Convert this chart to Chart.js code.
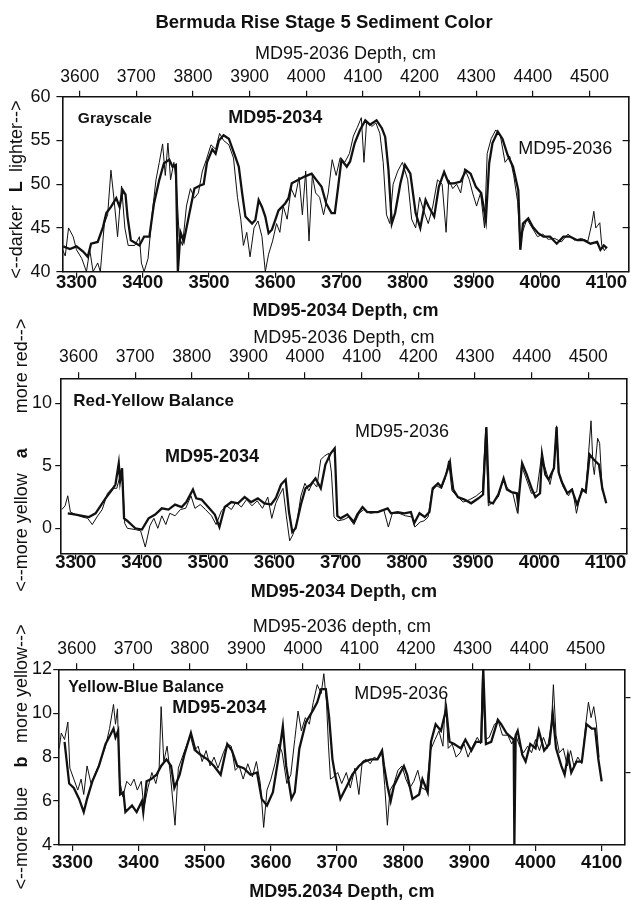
<!DOCTYPE html>
<html>
<head>
<meta charset="utf-8">
<script src="https://cdn.jsdelivr.net/npm/chart.js@4.4.1/dist/chart.umd.min.js"></script>
<style>
  html, body { margin: 0; padding: 0; background: #fff; overflow: hidden; }
  #wrap { position: relative; width: 631px; height: 900px; }
  #wrap canvas { position: absolute; left: 0; top: 0; }
</style>
</head>
<body>
<div id="wrap">
  <canvas id="c1" width="631" height="920"></canvas>
  <canvas id="c2" width="631" height="920"></canvas>
  <canvas id="c3" width="631" height="920"></canvas>
</div>
<script>
// tick labels
const depth34Ticks = [3300, 3400, 3500, 3600, 3700, 3800, 3900, 4000, 4100];
const depth36Ticks = [3600, 3700, 3800, 3900, 4000, 4100, 4200, 4300, 4400, 4500];
const grayTicks = [40, 45, 50, 55, 60];
const redTicks = [0, 5, 10];
const blueTicks = [4, 6, 8, 10, 12];

// [MD95-2034 depth (cm), value] ; MD95-2036 is plotted on the MD95-2034 depth scale
const gray34 = [[3280,42.9],[3290,42.6],[3300,42.9],[3310,42.3],[3317,41.7],[3322,43.2],[3332,43.4],[3340,45.1],[3345,46.7],[3352,47.4],
  [3360,48.4],[3365,47.4],[3370,49.3],[3374,48.8],[3377,46.3],[3382,43.6],[3395,43.0],[3402,44.0],[3410,44.0],[3417,47.8],
  [3425,50.5],[3432,52.4],[3440,52.8],[3445,52.0],[3450,52.2],[3453,40.0],[3457,44.5],[3462,43.5],[3470,46.5],[3478,49.5],
  [3485,49.8],[3492,50.0],[3497,52.5],[3505,54.0],[3510,53.5],[3515,55.0],[3522,55.6],[3530,55.2],[3540,53.1],[3545,52.0],
  [3550,49.0],[3555,46.3],[3565,45.5],[3570,45.9],[3575,48.2],[3580,47.4],[3585,46.3],[3590,44.4],[3595,44.8],[3600,45.9],
  [3605,47.0],[3615,47.8],[3620,48.4],[3625,50.1],[3635,50.5],[3645,50.9],[3655,51.2],[3662,50.5],[3670,49.7],[3677,47.8],
  [3685,46.7],[3690,46.7],[3695,49.7],[3700,52.8],[3708,52.0],[3713,52.6],[3720,54.7],[3728,56.2],[3736,57.3],[3743,56.8],
  [3753,57.3],[3761,56.4],[3766,55.4],[3771,51.6],[3776,45.5],[3781,46.7],[3789,50.1],[3796,52.2],[3804,51.2],[3812,46.7],
  [3819,45.0],[3827,48.2],[3832,47.4],[3840,46.3],[3847,49.7],[3855,51.4],[3862,50.1],[3870,50.1],[3880,50.3],[3888,51.6],
  [3895,51.2],[3903,49.7],[3911,49.0],[3918,45.9],[3923,52.4],[3928,54.7],[3936,56.0],[3943,55.2],[3951,53.3],[3959,52.0],
  [3967,49.3],[3970,42.5],[3974,45.5],[3982,46.1],[3989,45.1],[3997,44.4],[4005,44.0],[4015,44.0],[4025,43.2],[4035,44.0],
  [4045,44.0],[4056,43.6],[4066,43.6],[4076,43.2],[4086,43.4],[4091,42.5],[4096,43.0],[4101,42.7]];

const gray36 = [[3279,42.5],[3283,41.8],[3288,45.0],[3295,44.0],[3300,42.5],[3308,41.5],[3315,40.0],[3320,42.5],[3325,40.0],[3332,41.0],
  [3336,40.0],[3342,45.5],[3347,46.5],[3352,51.6],[3357,48.0],[3362,44.0],[3368,49.8],[3373,45.0],[3378,43.0],[3388,43.0],
  [3395,44.0],[3398,41.0],[3402,40.0],[3408,41.5],[3414,46.5],[3420,50.5],[3425,52.5],[3430,54.6],[3434,51.0],[3438,54.7],
  [3442,50.5],[3447,52.5],[3451,50.0],[3455,44.0],[3460,43.0],[3466,47.5],[3472,49.5],[3478,48.4],[3484,49.0],[3490,51.5],
  [3496,52.8],[3503,54.5],[3510,54.0],[3516,55.8],[3522,55.0],[3530,54.5],[3537,53.0],[3543,48.5],[3548,46.0],[3552,43.0],
  [3557,44.5],[3562,41.7],[3568,45.0],[3574,45.8],[3580,44.0],[3585,40.0],[3590,42.0],[3596,43.5],[3602,45.5],[3607,44.5],
  [3612,47.5],[3618,46.0],[3624,49.5],[3630,48.5],[3636,50.8],[3641,46.5],[3646,51.5],[3651,43.5],[3656,51.0],[3661,49.0],
  [3667,48.5],[3673,46.5],[3680,49.0],[3686,52.8],[3692,51.0],[3698,53.0],[3705,52.5],[3712,53.5],[3718,55.5],[3724,56.5],
  [3730,57.6],[3734,52.5],[3738,57.2],[3746,56.6],[3752,57.0],[3758,55.8],[3763,52.5],[3768,46.5],[3773,45.5],[3778,50.0],
  [3785,51.5],[3792,52.5],[3800,50.5],[3806,46.0],[3812,45.0],[3818,48.5],[3824,47.0],[3831,45.5],[3838,47.5],[3845,50.5],
  [3852,50.0],[3858,44.5],[3862,50.5],[3868,49.5],[3874,50.0],[3880,49.0],[3886,51.8],[3893,50.5],[3898,49.0],[3904,47.5],
  [3910,49.0],[3916,45.0],[3920,53.5],[3926,55.2],[3933,56.2],[3940,55.5],[3947,52.5],[3954,53.2],[3960,51.0],[3966,48.0],
  [3969,44.0],[3973,44.5],[3980,46.0],[3988,45.0],[3996,44.0],[4004,44.3],[4012,43.7],[4022,43.8],[4032,43.4],[4042,44.3],
  [4052,43.6],[4062,43.8],[4072,43.5],[4078,45.5],[4081,46.9],[4084,45.0],[4087,45.3],[4090,45.6],[4093,43.0],[4097,42.4],[4100,42.8]];

const red34 = [[3288,1.2],[3300,1.1],[3310,1.0],[3320,0.9],[3330,1.2],[3335,1.6],[3345,2.4],[3355,3.1],[3360,3.5],[3365,5.2],
  [3367,3.8],[3370,4.8],[3373,0.8],[3378,0.6],[3390,0.0],[3400,-0.1],[3410,0.8],[3420,1.1],[3430,1.6],[3440,1.5],
  [3450,1.9],[3460,1.7],[3467,2.1],[3477,3.1],[3482,2.4],[3490,2.3],[3500,1.7],[3510,1.1],[3517,0.1],[3525,1.7],
  [3535,2.1],[3545,2.0],[3555,2.5],[3565,2.1],[3575,2.4],[3585,2.0],[3595,1.9],[3602,2.4],[3610,3.5],[3617,3.9],
  [3622,1.3],[3627,-0.3],[3632,0.0],[3640,1.9],[3647,3.2],[3655,3.5],[3662,4.0],[3670,3.2],[3677,5.1],[3685,6.0],
  [3691,6.4],[3695,1.0],[3700,0.8],[3710,1.1],[3720,0.5],[3725,1.1],[3733,1.7],[3740,1.3],[3756,1.3],[3771,1.6],
  [3776,1.2],[3786,1.3],[3796,1.2],[3806,1.3],[3811,0.4],[3819,1.2],[3827,0.9],[3834,1.3],[3839,3.2],[3847,3.6],
  [3852,3.3],[3859,4.3],[3865,5.3],[3867,4.3],[3870,3.1],[3877,2.5],[3887,2.3],[3897,2.0],[3908,2.4],[3915,2.7],
  [3920,8.1],[3924,2.1],[3930,2.0],[3938,2.7],[3946,4.0],[3951,3.1],[3958,2.9],[3966,2.8],[3968,1.9],[3974,5.2],
  [3981,4.3],[3989,3.1],[3994,2.5],[4001,2.8],[4004,5.9],[4009,4.3],[4014,3.9],[4022,4.8],[4026,8.1],[4029,4.5],
  [4034,3.7],[4042,2.8],[4049,3.1],[4057,1.9],[4065,3.1],[4070,2.9],[4076,5.9],[4082,5.5],[4090,5.1],[4095,3.2],[4101,2.0]];

const red36 = [[3279,1.5],[3284,1.8],[3288,2.6],[3292,1.3],[3300,1.1],[3310,0.9],[3318,0.8],[3325,0.3],[3332,0.9],[3340,1.5],
  [3348,2.8],[3355,3.2],[3362,3.2],[3366,4.0],[3370,4.8],[3374,0.4],[3378,0.0],[3390,-0.1],[3398,-0.2],[3405,-1.5],
  [3412,0.2],[3418,0.8],[3424,0.0],[3430,1.0],[3436,0.3],[3442,1.2],[3450,1.0],[3458,1.5],[3466,1.6],[3474,2.6],
  [3480,1.6],[3488,1.9],[3496,1.5],[3505,1.0],[3512,0.3],[3520,1.4],[3528,1.8],[3535,1.5],[3542,2.1],[3550,1.7],
  [3558,2.3],[3566,1.8],[3574,2.2],[3582,1.6],[3590,2.5],[3596,0.8],[3602,2.0],[3608,2.7],[3613,3.2],[3618,1.0],
  [3623,-1.0],[3628,-0.5],[3634,0.5],[3640,2.6],[3646,3.6],[3652,3.0],[3658,3.7],[3664,3.3],[3670,5.5],[3676,5.8],
  [3682,6.0],[3686,4.5],[3690,0.9],[3696,0.6],[3705,0.7],[3712,0.9],[3720,0.3],[3728,1.2],[3735,1.5],[3745,1.2],
  [3755,1.3],[3765,1.5],[3772,0.1],[3778,1.2],[3788,1.2],[3798,1.0],[3808,0.9],[3812,0.1],[3820,0.5],[3826,0.6],
  [3832,0.9],[3838,3.0],[3845,3.4],[3852,3.2],[3858,4.0],[3863,5.4],[3868,3.0],[3875,2.6],[3885,2.1],[3895,2.3],
  [3905,2.6],[3914,3.0],[3919,8.0],[3923,1.8],[3930,2.1],[3938,2.5],[3945,3.8],[3952,3.2],[3960,2.8],[3967,1.2],
  [3973,5.0],[3980,4.0],[3988,2.8],[3996,2.9],[4003,5.7],[4010,4.6],[4016,3.5],[4022,5.0],[4026,8.2],[4030,4.2],
  [4036,3.3],[4044,2.6],[4050,3.2],[4056,1.2],[4064,3.2],[4070,3.0],[4075,6.5],[4078,8.6],[4081,5.0],[4083,4.3],
  [4088,7.2],[4091,6.8],[4095,3.0]];

const blue34 = [[3288,8.7],[3295,6.8],[3302,6.6],[3310,6.1],[3317,5.5],[3322,6.1],[3330,6.9],[3340,7.6],[3350,8.6],[3357,9.0],
  [3362,9.3],[3365,8.9],[3369,9.2],[3372,6.3],[3377,6.4],[3380,5.5],[3390,5.8],[3397,5.5],[3405,6.0],[3407,5.5],
  [3412,6.9],[3419,7.0],[3427,7.2],[3434,7.6],[3442,7.9],[3449,7.6],[3454,6.6],[3462,7.2],[3469,8.1],[3479,9.1],
  [3486,8.3],[3494,8.1],[3504,7.9],[3514,7.6],[3524,7.2],[3534,8.6],[3541,8.3],[3549,7.6],[3559,7.5],[3569,7.2],
  [3579,7.3],[3586,6.1],[3594,5.8],[3603,6.4],[3611,7.9],[3618,9.4],[3623,7.6],[3631,6.1],[3636,6.4],[3643,8.4],
  [3653,9.6],[3663,10.1],[3670,10.5],[3676,11.1],[3683,11.1],[3688,9.8],[3693,7.9],[3697,7.2],[3705,6.1],[3715,6.7],
  [3723,7.2],[3733,7.6],[3741,7.8],[3751,7.9],[3761,7.9],[3768,8.3],[3771,7.6],[3776,6.7],[3781,6.0],[3786,6.7],
  [3794,7.2],[3801,7.6],[3806,7.2],[3814,6.1],[3824,6.3],[3829,7.0],[3837,6.4],[3842,8.7],[3849,9.5],[3857,9.2],
  [3865,10.2],[3870,8.7],[3877,8.6],[3887,8.4],[3894,8.8],[3903,8.3],[3910,8.7],[3918,8.7],[3921,12.0],[3925,8.6],
  [3933,8.7],[3943,9.7],[3948,9.5],[3956,9.1],[3963,8.9],[3967,8.8],[3968,4.0],[3970,9.0],[3973,9.2],[3980,8.1],
  [3985,7.8],[3992,8.6],[4000,8.4],[4005,9.2],[4013,8.3],[4021,8.6],[4026,10.0],[4031,8.4],[4039,7.6],[4044,7.2],
  [4049,8.1],[4054,7.3],[4062,7.8],[4070,7.8],[4077,9.5],[4085,9.3],[4090,9.3],[4095,7.9],[4100,6.9]];

const blue36 = [[3280,8.4],[3283,9.1],[3288,8.8],[3293,9.6],[3296,7.5],[3302,7.0],[3308,6.5],[3313,7.0],[3317,6.3],[3322,7.6],
  [3328,6.8],[3335,7.3],[3342,7.8],[3350,8.5],[3356,9.3],[3362,10.4],[3365,9.5],[3368,10.2],[3371,7.0],[3376,6.2],
  [3382,6.9],[3388,6.7],[3393,7.0],[3398,6.5],[3404,6.9],[3408,5.7],[3414,6.6],[3420,7.3],[3426,6.8],[3431,7.5],
  [3434,10.3],[3438,7.8],[3443,8.5],[3448,7.2],[3455,4.9],[3460,7.5],[3466,8.0],[3472,8.5],[3478,9.0],[3484,8.3],
  [3490,8.5],[3496,7.8],[3502,8.3],[3508,7.6],[3514,8.0],[3520,7.5],[3528,8.2],[3534,8.6],[3540,8.5],[3546,7.4],
  [3552,7.6],[3558,7.0],[3565,7.7],[3572,7.1],[3578,7.8],[3584,6.8],[3589,4.8],[3594,6.5],[3600,7.0],[3606,7.7],
  [3612,8.6],[3617,8.2],[3624,6.8],[3630,7.2],[3636,8.8],[3641,10.1],[3646,9.2],[3652,9.8],[3658,9.5],[3664,10.5],
  [3670,11.3],[3676,10.9],[3680,11.8],[3684,10.5],[3687,8.5],[3690,7.0],[3695,7.1],[3701,7.3],[3707,6.8],[3714,7.3],
  [3720,6.6],[3727,7.5],[3733,6.3],[3738,7.8],[3744,7.9],[3750,7.7],[3756,8.0],[3762,7.9],[3768,8.2],[3772,6.7],
  [3776,4.9],[3780,6.5],[3786,6.8],[3792,7.4],[3798,7.6],[3804,7.0],[3810,6.6],[3816,6.9],[3822,7.4],[3828,6.6],
  [3835,6.5],[3841,8.3],[3848,8.8],[3854,9.2],[3860,8.5],[3864,10.7],[3868,8.4],[3874,8.6],[3880,8.0],[3886,8.2],
  [3892,8.6],[3898,8.0],[3905,8.5],[3912,8.9],[3917,8.6],[3920,12.0],[3924,8.8],[3930,8.9],[3938,9.5],[3944,9.6],
  [3950,9.0],[3958,9.0],[3964,8.6],[3970,9.0],[3976,8.5],[3982,8.2],[3988,8.5],[3994,8.2],[4000,8.8],[4006,8.3],
  [4012,8.9],[4018,8.4],[4024,9.5],[4027,11.3],[4031,9.0],[4036,8.2],[4042,8.4],[4048,7.6],[4053,8.3],[4058,7.6],
  [4064,8.0],[4070,7.7],[4076,9.5],[4080,10.5],[4084,9.8],[4088,10.3],[4092,9.5],[4096,8.0]];

const FONT = '"Liberation Sans", Arial, Helvetica, sans-serif';
const INK = '#111';
Chart.defaults.font.family = FONT;
Chart.defaults.color = INK;

const toPoints = arr => arr.map(p => ({ x: p[0], y: p[1] }));
const tickList = vals => vals.map(v => ({ value: v }));

// titles, annotations and the rotated y-axis caption
const panelText = {
  id: 'panelText',
  afterDraw(chart, args, opts) {
    const ctx = chart.ctx;
    const xs = chart.scales.x, ys = chart.scales.y;
    ctx.save();
    ctx.fillStyle = INK;
    if (opts.mainTitle) {
      ctx.font = 'bold 18.5px ' + FONT;
      ctx.textAlign = 'center';
      ctx.textBaseline = 'middle';
      ctx.fillText(opts.mainTitle, 324, 22.5);
    }
    ctx.textAlign = 'left';
    ctx.textBaseline = 'alphabetic';
    opts.labels.forEach(l => {
      ctx.font = l.font + ' ' + FONT;
      ctx.fillText(l.text, xs.getPixelForValue(l.x), ys.getPixelForValue(l.y));
    });
    const t = opts.yTitle;
    ctx.translate(t.x, ys.getPixelForValue(t.at));
    ctx.rotate(-Math.PI / 2);
    ctx.textBaseline = 'middle';
    ctx.font = 'bold 18px ' + FONT;
    ctx.textAlign = 'center';
    ctx.fillText(t.letter, 0, 0);
    ctx.font = '18px ' + FONT;
    ctx.textAlign = 'right';
    ctx.fillText(t.low, -t.gapLow, 0);
    ctx.textAlign = 'left';
    ctx.fillText(t.high, t.gapUp, 0);
    ctx.restore();
  }
};

function makePanel(p) {
  const tl = 6;
  const topTickSize = 17.5, botTickSize = 18.5, yTickSize = 18, titleSize = 18;
  const a = p.area;
  const scaleTop = p.topTitleMid - titleSize / 2;
  const scaleBottom = p.botTitleMid + titleSize / 2;

  new Chart(document.getElementById(p.id), {
    type: 'line',
    data: {
      datasets: [
        { label: 'MD95-2034', data: toPoints(p.thick), borderColor: INK, borderWidth: 2.3,
          pointRadius: 0, tension: 0, xAxisID: 'x', yAxisID: 'y' },
        { label: 'MD95-2036', data: toPoints(p.thin), borderColor: INK, borderWidth: 1,
          pointRadius: 0, tension: 0, xAxisID: 'x', yAxisID: 'y' }
      ]
    },
    options: {
      responsive: false,
      animation: false,
      events: [],
      layout: { padding: { left: 0, right: 631 - a.right, top: scaleTop, bottom: 920 - scaleBottom } },
      plugins: {
        legend: { display: false },
        tooltip: { enabled: false },
        panelText: { mainTitle: p.mainTitle, labels: p.labels, yTitle: p.yTitle }
      },
      scales: {
        x: {
          type: 'linear', position: 'bottom', min: p.xMin, max: p.xMax,
          afterBuildTicks: s => { s.ticks = tickList(depth34Ticks); },
          afterFit: s => { s.height = scaleBottom - a.bottom; },
          ticks: { font: { size: botTickSize, weight: 'bold', lineHeight: 1 }, color: INK,
                   padding: p.botLabelMid - a.bottom - tl - botTickSize / 2,
                   maxRotation: 0, autoSkip: false, callback: v => String(v) },
          grid: { drawOnChartArea: false, tickLength: tl, color: INK, lineWidth: 1.2 },
          border: { color: INK, width: 1.6 },
          title: { display: true, text: p.botTitle, color: INK, padding: 0,
                   font: { size: titleSize, weight: 'bold', lineHeight: 1 } }
        },
        x2: {
          type: 'linear', position: 'top', min: p.x2Min, max: p.x2Max,
          afterBuildTicks: s => { s.ticks = tickList(depth36Ticks); },
          afterFit: s => { s.height = a.top - scaleTop; },
          ticks: { font: { size: topTickSize, lineHeight: 1 }, color: INK,
                   padding: a.top - tl - topTickSize / 2 - p.topLabelMid,
                   maxRotation: 0, autoSkip: false, callback: v => String(v) },
          grid: { drawOnChartArea: false, tickLength: tl, color: INK, lineWidth: 1.2 },
          border: { color: INK, width: 1.6 },
          title: { display: true, text: p.topTitle, color: INK, padding: 0,
                   font: { size: titleSize, lineHeight: 1 } }
        },
        y: {
          type: 'linear', position: 'left', min: p.yMin, max: p.yMax,
          afterBuildTicks: s => { s.ticks = tickList(p.yTicks); },
          afterFit: s => { s.width = a.left; },
          ticks: { font: { size: yTickSize, lineHeight: 1 }, color: INK,
                   padding: a.left - tl - p.yLabelRight, autoSkip: false, callback: v => String(v) },
          grid: { drawOnChartArea: false, tickLength: tl, color: INK, lineWidth: 1.2 },
          border: { color: INK, width: 1.6 }
        },
        yR: {
          type: 'linear', position: 'right', min: p.yMin, max: p.yMax,
          afterBuildTicks: s => { s.ticks = tickList(p.rightTicks); },
          afterFit: s => { s.width = 0; },
          ticks: { display: false },
          grid: { drawOnChartArea: false, tickLength: p.rightTickLength, color: INK, lineWidth: 1.2 },
          border: { color: INK, width: 1.6 }
        }
      }
    },
    plugins: [panelText]
  });
}

makePanel({
  id: 'c1', thick: gray34, thin: gray36,
  yMin: 40, yMax: 60, yTicks: grayTicks, rightTicks: [45, 50, 55], rightTickLength: -6,
  area: { left: 62.4, right: 628.6, top: 96.7, bottom: 271.7 },
  xMin: 3278.7, xMax: 4133.5, x2Min: 3569.5, x2Max: 4569,
  topLabelMid: 77.5, topTitleMid: 54, botLabelMid: 283, botTitleMid: 311.5, yLabelRight: 50.5,
  mainTitle: 'Bermuda Rise Stage 5 Sediment Color',
  topTitle: 'MD95-2036 Depth, cm', botTitle: 'MD95-2034 Depth, cm',
  yTitle: { at: 49.7, x: 16.7, low: '<--darker', letter: 'L', high: 'lighter-->', gapLow: 18.5, gapUp: 14.8 },
  labels: [
    { text: 'Grayscale', x: 3302, y: 56.96, font: 'bold 15.5px' },
    { text: 'MD95-2034', x: 3529, y: 57.03, font: 'bold 18px' },
    { text: 'MD95-2036', x: 3967, y: 53.45, font: '18px' }
  ]
});

makePanel({
  id: 'c2', thick: red34, thin: red36,
  yMin: -2, yMax: 12, yTicks: redTicks, rightTicks: [0, 5, 10], rightTickLength: -6,
  area: { left: 61.2, right: 626.6, top: 378.3, bottom: 553.3 },
  xMin: 3278.1, xMax: 4131.7, x2Min: 3569.5, x2Max: 4567.6,
  topLabelMid: 356.7, topTitleMid: 338.3, botLabelMid: 563.3, botTitleMid: 592.5, yLabelRight: 52,
  topTitle: 'MD95-2036 Depth, cm', botTitle: 'MD95-2034 Depth, cm',
  yTitle: { at: 6.0, x: 22.5, low: '<--more yellow', letter: 'a', high: 'more red-->', gapLow: 20, gapUp: 40 },
  labels: [
    { text: 'Red-Yellow Balance', x: 3296.4, y: 9.78, font: 'bold 17px' },
    { text: 'MD95-2034', x: 3434.8, y: 5.28, font: 'bold 18px' },
    { text: 'MD95-2036', x: 3721.6, y: 7.33, font: '18px' }
  ]
});

makePanel({
  id: 'c3', thick: blue34, thin: blue36,
  yMin: 4, yMax: 12, yTicks: blueTicks, rightTicks: [7.3, 10.7], rightTickLength: 6,
  area: { left: 59.2, right: 624.5, top: 669.3, bottom: 845 },
  xMin: 3279.9, xMax: 4134.5, x2Min: 3569, x2Max: 4568.6,
  topLabelMid: 649, topTitleMid: 627.5, botLabelMid: 863.3, botTitleMid: 892.5, yLabelRight: 52,
  topTitle: 'MD95-2036 depth, cm', botTitle: 'MD95.2034 Depth, cm',
  yTitle: { at: 7.78, x: 22.5, low: '<--more blue', letter: 'b', high: 'more yellow-->', gapLow: 25, gapUp: 19 },
  labels: [
    { text: 'Yellow-Blue Balance', x: 3293.7, y: 10.98, font: 'bold 16px' },
    { text: 'MD95-2034', x: 3450.9, y: 10.0, font: 'bold 18px' },
    { text: 'MD95-2036', x: 3726, y: 10.63, font: '18px' }
  ]
});
</script>
</body>
</html>
